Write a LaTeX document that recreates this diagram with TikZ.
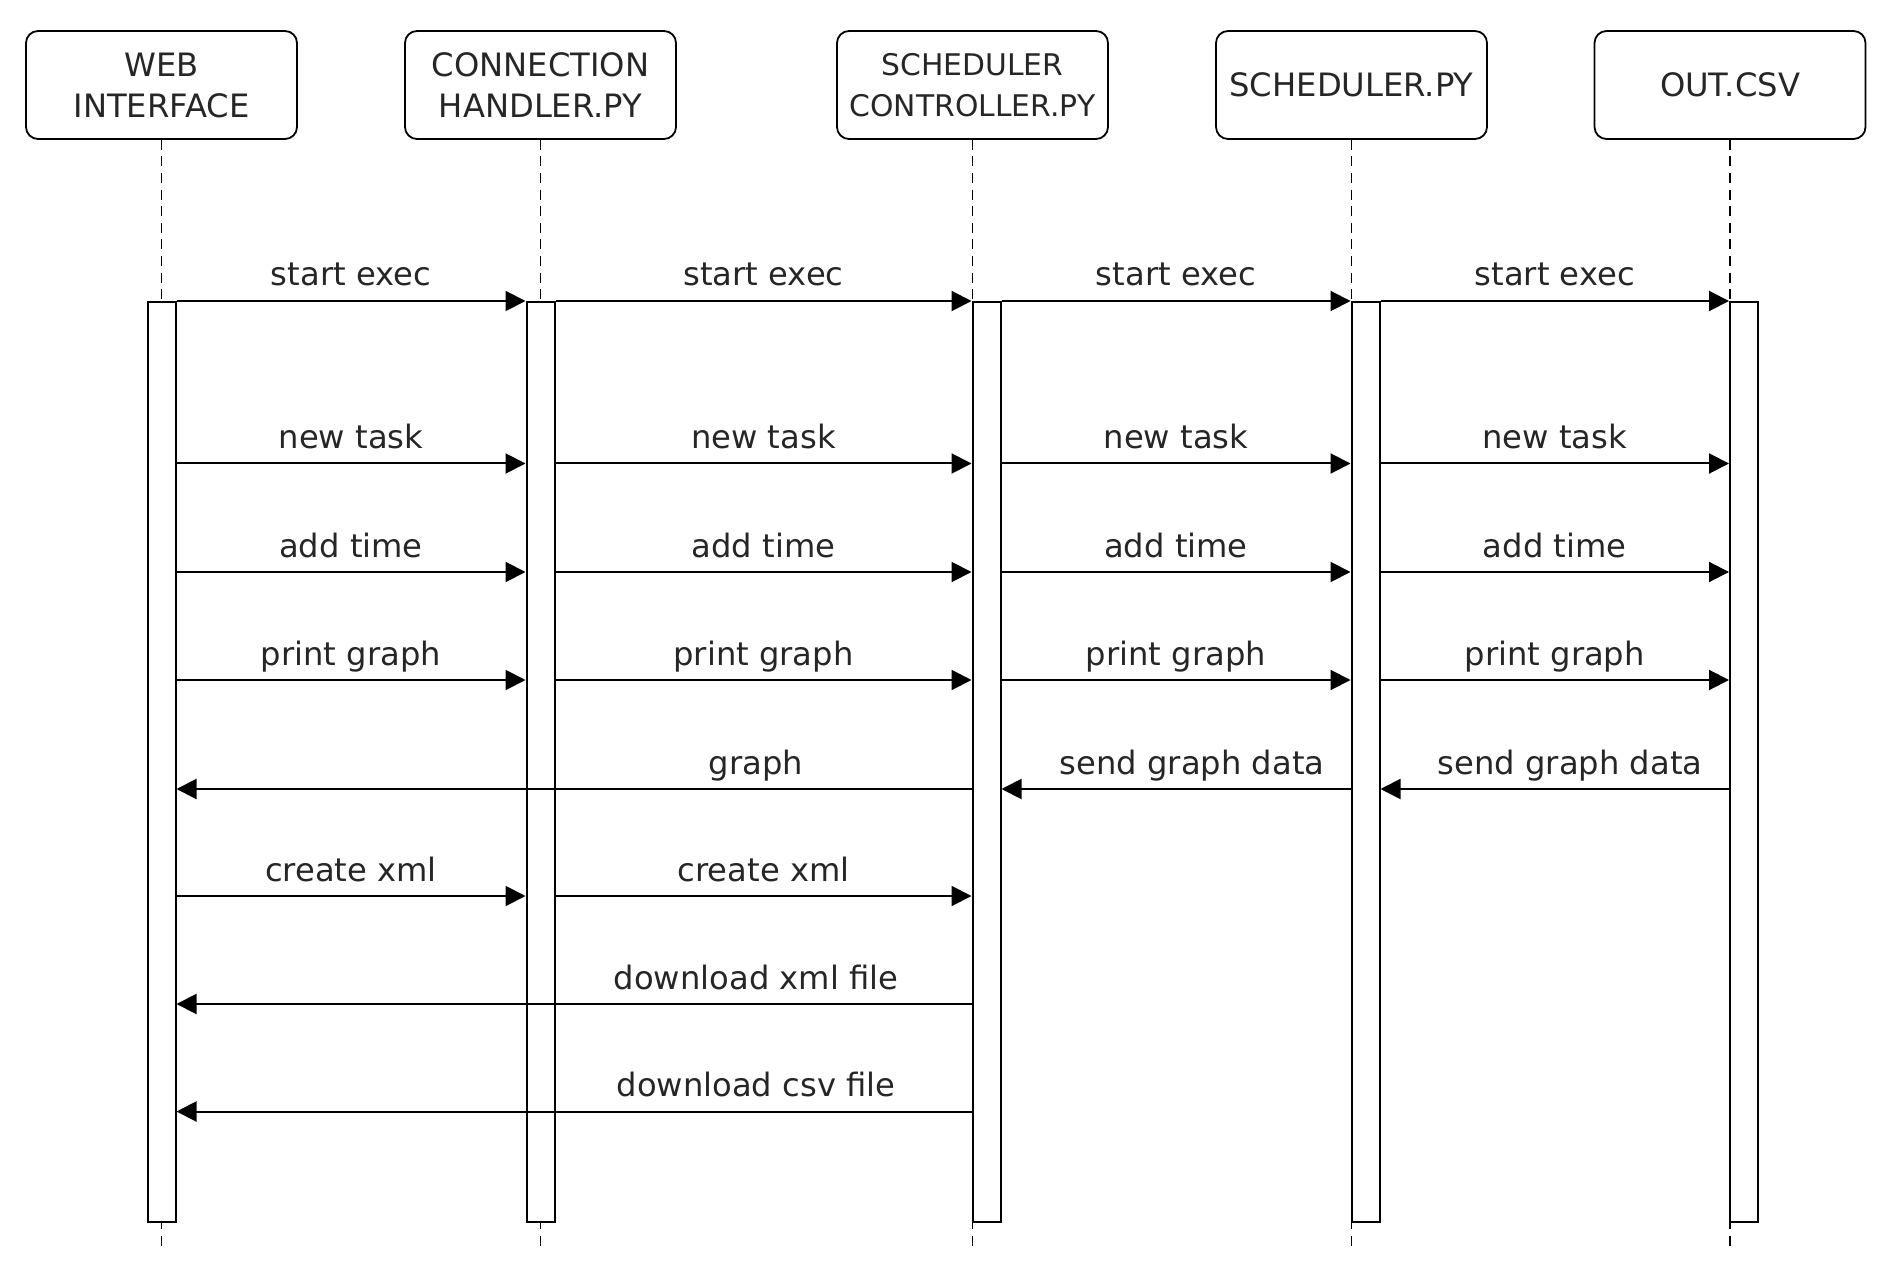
\documentclass[tikz,border=0pt]{standalone}
\usepackage{fontspec}
\setmainfont{DejaVu Sans}
\usetikzlibrary{arrows.meta}
\begin{document}
\begin{tikzpicture}[x=0.5pt,y=-0.5pt,
  head/.style={draw, rounded corners=6pt, line width=0.9pt, minimum width=135.5pt, minimum height=54pt, align=center, font=\fontsize{16.1}{20.5}\selectfont, text=black!85, inner sep=0pt},
  act/.style={draw, fill=white, line width=1pt, minimum width=14pt, minimum height=460pt, anchor=north, inner sep=0pt},
  life/.style={line width=0.6pt, dash pattern=on 5pt off 3.3pt},
  msg/.style={line width=1pt, -{Triangle[length=10pt,width=10pt]}},
  lbl/.style={anchor=base, font=\fontsize{16.1}{20}\selectfont, text=black!85, inner sep=0pt}
]
\useasboundingbox (0,0) rectangle (1888,1272);
% heads
\node[head] (h1) at (161.5,85) {WEB\\INTERFACE};
\node[head] (h2) at (540.5,85) {CONNECTION\\HANDLER.PY};
\node[head, font=\fontsize{14.9}{20.5}\selectfont] (h3) at (972.5,85) {SCHEDULER\\CONTROLLER.PY};
\node[head] (h4) at (1351.5,85) {SCHEDULER.PY};
\node[head] (h5) at (1730,85) {OUT.CSV};
% end of lifelines
\coordinate (e) at (0,1246);
\foreach \i in {1,...,5}{
  \draw[life] (h\i.south) -- (h\i.south |- e);
}
% activations
\node[act] (a1) at (161.5,301) {};
\node[act] (a2) at (540.5,301) {};
\node[act] (a3) at (986.5,301) {};
\node[act] (a4) at (1365.5,301) {};
\node[act] (a5) at (1744,301) {};
% message rows
\coordinate (r1) at (0,301);
\coordinate (r2) at (0,463.5);
\coordinate (r3) at (0,572);
\coordinate (r4) at (0,680);
\coordinate (r5) at (0,789);
\coordinate (r6) at (0,896);
\coordinate (r7) at (0,1004);
\coordinate (r8) at (0,1111.5);
% forward rows
\foreach \r/\t in {r1/start exec, r2/new task, r3/add time, r4/print graph}{
  \draw[msg] (a1.east |- \r) -- node[lbl, yshift=7.5pt] {\t} (a2.west |- \r);
  \draw[msg] (a2.east |- \r) -- node[lbl, yshift=7.5pt] {\t} (a3.west |- \r);
  \draw[msg] (a3.east |- \r) -- node[lbl, yshift=7.5pt] {\t} (a4.west |- \r);
  \draw[msg] (a4.east |- \r) -- node[lbl, yshift=7.5pt] {\t} (a5.west |- \r);
}
% returns
\draw[msg] (a3.west |- r5) -- (a1.east |- r5);
\node[lbl] (lg) at (756,774) {graph};
\draw[msg] (a4.west |- r5) -- (a3.east |- r5);
\node[lbl] (ls1) at (1192,774) {send graph data};
\draw[msg] (a5.west |- r5) -- (a4.east |- r5);
\node[lbl] (ls2) at (1570,774) {send graph data};
% create xml
\draw[msg] (a1.east |- r6) -- node[lbl, yshift=7.5pt] {create xml} (a2.west |- r6);
\draw[msg] (a2.east |- r6) -- node[lbl, yshift=7.5pt] {create xml} (a3.west |- r6);
% downloads
\draw[msg] (a3.west |- r7) -- (a1.east |- r7);
\node[lbl] (ldx) at (756,989) {download xml file};
\draw[msg] (a3.west |- r8) -- (a1.east |- r8);
\node[lbl] (ldc) at (756,1096.5) {download csv file};
\end{tikzpicture}
\end{document}
